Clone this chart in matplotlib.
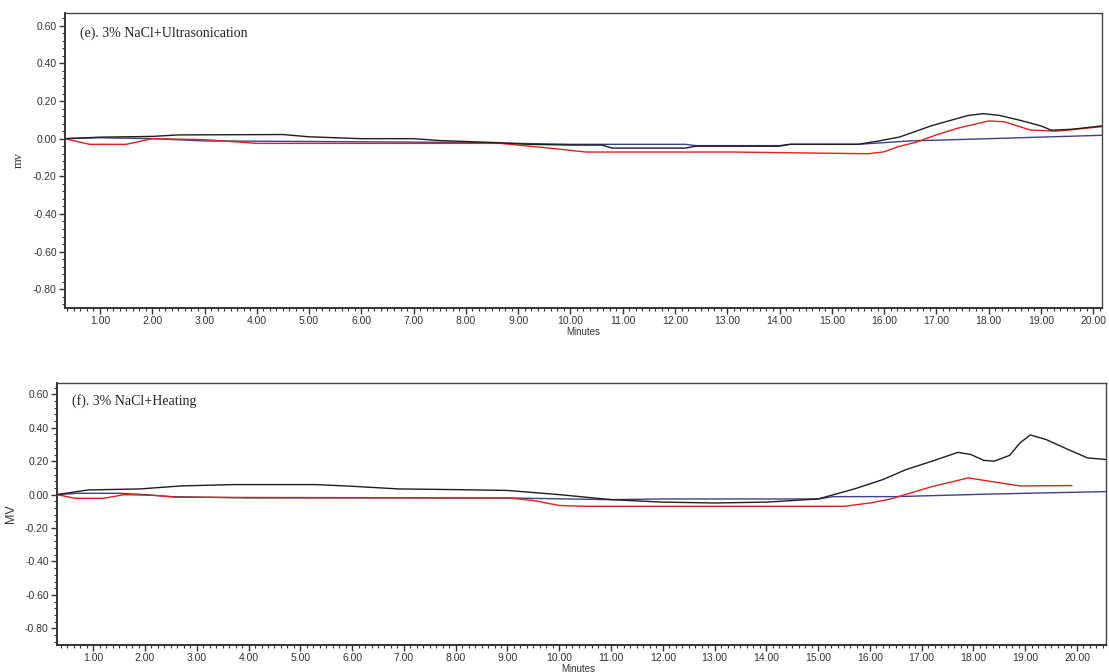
#!/usr/bin/env python3
"""Two stacked chromatogram panels: 3% NaCl + ultrasonication / heating."""

import matplotlib

matplotlib.use("Agg")
import matplotlib.pyplot as plt
from matplotlib.ticker import AutoMinorLocator, FixedLocator

# ---- panel (e): 3% NaCl + Ultrasonication ----
e_black_t = [0.33, 1.0, 2.0, 2.5, 4.5, 5.0, 6.0, 7.0, 7.5, 8.5, 9.2, 10.0, 10.6, 10.8,
             12.2, 12.4, 14.0, 14.2, 15.5, 15.9, 16.3, 16.9, 17.6, 17.9, 18.2, 18.6,
             19.0, 19.2, 19.6, 20.17]
e_black_v = [0.0, 0.008, 0.012, 0.02, 0.022, 0.01, 0.0, 0.0, -0.01, -0.02, -0.03, -0.034,
             -0.034, -0.05, -0.05, -0.04, -0.04, -0.03, -0.03, -0.012, 0.009, 0.068, 0.123,
             0.133, 0.124, 0.098, 0.068, 0.045, 0.05, 0.068]

e_red_t = [0.33, 0.8, 1.5, 2.0, 3.0, 4.0, 7.0, 8.65, 9.6, 10.3, 13.1, 15.7, 16.0, 16.3,
           16.6, 17.0, 17.4, 18.0, 18.3, 18.8, 19.3, 20.17]
e_red_v = [0.0, -0.03, -0.03, 0.0, -0.005, -0.025, -0.025, -0.025, -0.05, -0.071, -0.071,
           -0.08, -0.07, -0.04, -0.02, 0.02, 0.055, 0.094, 0.09, 0.046, 0.04, 0.064]

e_navy_t = [0.33, 1.0, 2.0, 3.0, 5.0, 8.0, 9.0, 10.0, 12.2, 12.4, 14.0, 14.2, 15.5,
            16.5, 18.0, 20.17]
e_navy_v = [0.0, 0.005, 0.0, -0.012, -0.015, -0.02, -0.025, -0.03, -0.03, -0.037, -0.037,
            -0.03, -0.03, -0.012, 0.0, 0.018]

# ---- panel (f): 3% NaCl + Heating ----
f_black_t = [0.3, 0.9, 1.9, 2.7, 3.7, 5.3, 6.0, 6.9, 8.0, 9.0, 10.0, 11.0, 12.0, 13.0,
             14.0, 15.0, 15.7, 16.25, 16.7, 17.2, 17.7, 17.95, 18.2, 18.4, 18.7, 18.9,
             19.1, 19.4, 19.8, 20.2, 20.56]
f_black_v = [0.0, 0.028, 0.034, 0.052, 0.06, 0.06, 0.05, 0.034, 0.03, 0.025, 0.0, -0.03,
             -0.045, -0.05, -0.045, -0.026, 0.034, 0.09, 0.15, 0.2, 0.253, 0.24, 0.205,
             0.2, 0.235, 0.31, 0.357, 0.33, 0.274, 0.22, 0.21]

f_red_t = [0.3, 0.65, 1.2, 1.6, 2.2, 2.6, 9.0, 9.5, 10.0, 10.5, 15.5, 16.0, 16.4, 17.2,
           17.9, 18.9, 19.9]
f_red_v = [0.0, -0.022, -0.022, 0.0, -0.005, -0.016, -0.02, -0.035, -0.065, -0.07, -0.07,
           -0.05, -0.026, 0.048, 0.1, 0.052, 0.054]

f_navy_t = [0.3, 0.7, 1.5, 2.0, 2.5, 4.0, 9.0, 10.0, 11.0, 12.0, 15.0, 15.3, 16.5, 18.4,
            20.56]
f_navy_v = [0.0, 0.008, 0.008, 0.0, -0.012, -0.02, -0.02, -0.025, -0.03, -0.026, -0.026,
            -0.012, -0.012, 0.004, 0.018]

y_ticks = [0.60, 0.40, 0.20, 0.00, -0.20, -0.40, -0.60, -0.80]
x_ticks = list(range(1, 21))

BLACK = "#1e1e1e"
RED = "#e3201d"
NAVY = "#3f3f8e"
W, H = 1109, 672


def px_axes(fig, left, top, right, bottom):
    return fig.add_axes([left / W, 1 - bottom / H, (right - left) / W, (bottom - top) / H])


def style_axes(ax, xlim, title, ylabel, ylabel_font):
    ax.set_xlim(*xlim)
    ax.set_ylim(-0.90, 0.668)
    ax.yaxis.set_major_locator(FixedLocator(y_ticks))
    ax.set_yticklabels([f"{v:.2f}" for v in y_ticks])
    ax.xaxis.set_major_locator(FixedLocator(x_ticks))
    ax.set_xticklabels([f"{v:.2f}" for v in x_ticks])
    ax.xaxis.set_minor_locator(AutoMinorLocator(8))
    ax.yaxis.set_minor_locator(AutoMinorLocator(5))
    ax.tick_params(which="major", length=4, width=1, color="#333333", labelsize=7.5,
                   labelcolor="#333333", pad=2)
    ax.tick_params(which="minor", length=2, width=0.8, color="#333333")
    for lab in ax.get_xticklabels() + ax.get_yticklabels():
        lab.set_family("Liberation Sans")
    for side in ("left", "bottom"):
        ax.spines[side].set_linewidth(1.4)
        ax.spines[side].set_color("#333333")
    for side in ("top", "right"):
        ax.spines[side].set_linewidth(1.0)
        ax.spines[side].set_color("#444444")
    ax.text(0.014, 0.93, title, transform=ax.transAxes, family="Liberation Serif",
            fontsize=10, va="center", ha="left", color="#222222")
    ax.set_ylabel(ylabel, family=ylabel_font, fontsize=9, labelpad=6, color="#333333")


fig = plt.figure(figsize=(W / 100, H / 100), dpi=100)

ax1 = px_axes(fig, 65, 13, 1102, 308)
ax1.plot(e_navy_t, e_navy_v, color=NAVY, lw=1.0)
ax1.plot(e_red_t, e_red_v, color=RED, lw=1.0)
ax1.plot(e_black_t, e_black_v, color=BLACK, lw=1.0)
style_axes(ax1, (0.33, 20.17), "(e). 3% NaCl+Ultrasonication", "mv", "Liberation Serif")
fig.text(583 / W, 1 - 332 / H, "Minutes", family="Liberation Sans", fontsize=7,
         ha="center", va="center", color="#333333")

ax2 = px_axes(fig, 57, 383, 1106, 645)
ax2.plot(f_navy_t, f_navy_v, color=NAVY, lw=1.0)
ax2.plot(f_red_t, f_red_v, color=RED, lw=1.0)
ax2.plot(f_black_t, f_black_v, color=BLACK, lw=1.0)
style_axes(ax2, (0.3, 20.56), "(f). 3% NaCl+Heating", "MV", "Liberation Sans")
fig.text(578 / W, 1 - 669 / H, "Minutes", family="Liberation Sans", fontsize=7,
         ha="center", va="center", color="#333333")

fig.savefig("out.png", dpi=100)
